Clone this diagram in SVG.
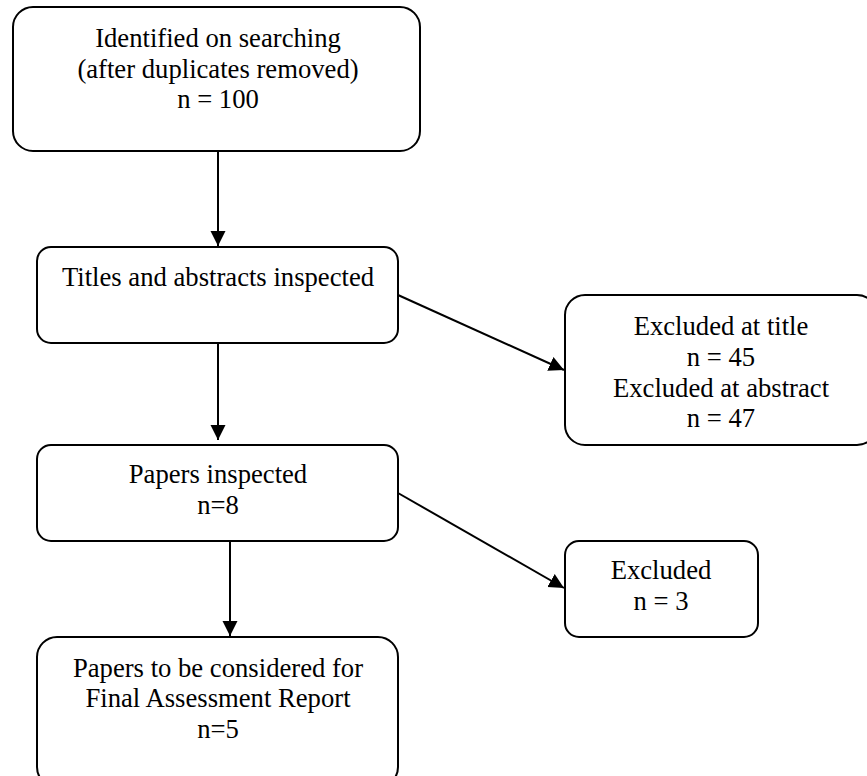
<svg xmlns="http://www.w3.org/2000/svg" width="867" height="776" viewBox="0 0 867 776">
<style>
.box{fill:#fff;stroke:#000;stroke-width:2}
.t{font-family:"Liberation Serif","Times New Roman",serif;font-size:26.67px;fill:#000;text-anchor:middle}
.c{stroke:#000;stroke-width:2;fill:none}
</style>
<defs>
<marker id="ah" markerUnits="userSpaceOnUse" markerWidth="16" markerHeight="16" refX="15" refY="7.5" orient="auto">
<path d="M0,0 L15,7.5 L0,15 Z" fill="#000"/>
</marker>
</defs>
<rect width="867" height="776" fill="#fff"/>
<g id="connectors">
<line class="c" x1="218" y1="151" x2="218" y2="246" marker-end="url(#ah)"/>
<line class="c" x1="218" y1="343" x2="218" y2="440" marker-end="url(#ah)"/>
<line class="c" x1="230" y1="541" x2="230" y2="636" marker-end="url(#ah)"/>
<line class="c" x1="398" y1="295" x2="564" y2="370" marker-end="url(#ah)"/>
<line class="c" x1="398" y1="493" x2="564" y2="588" marker-end="url(#ah)"/>
</g>
<g id="identified">
<rect class="box" x="13" y="7" width="407" height="144" rx="20"/>
<text class="t" x="218" y="47">Identified on searching</text>
<text class="t" x="218" y="78">(after duplicates removed)</text>
<text class="t" x="218" y="108">n = 100</text>
</g>
<g id="titles">
<rect class="box" x="37" y="247" width="361" height="96" rx="14"/>
<text class="t" x="218" y="286">Titles and abstracts inspected</text>
</g>
<g id="excluded1">
<rect class="box" x="565" y="295" width="312" height="150" rx="20"/>
<text class="t" x="721" y="335">Excluded at title</text>
<text class="t" x="721" y="366">n = 45</text>
<text class="t" x="721" y="397">Excluded at abstract</text>
<text class="t" x="721" y="427">n = 47</text>
</g>
<g id="papers">
<rect class="box" x="37" y="445" width="361" height="96" rx="14"/>
<text class="t" x="218" y="483">Papers inspected</text>
<text class="t" x="218" y="514">n=8</text>
</g>
<g id="excluded2">
<rect class="box" x="565" y="541" width="193" height="96" rx="14"/>
<text class="t" x="661" y="579">Excluded</text>
<text class="t" x="661" y="610">n = 3</text>
</g>
<g id="final">
<rect class="box" x="37" y="637" width="361" height="150" rx="20"/>
<text class="t" x="218" y="677">Papers to be considered for</text>
<text class="t" x="218" y="707">Final Assessment Report</text>
<text class="t" x="218" y="738">n=5</text>
</g>
</svg>
